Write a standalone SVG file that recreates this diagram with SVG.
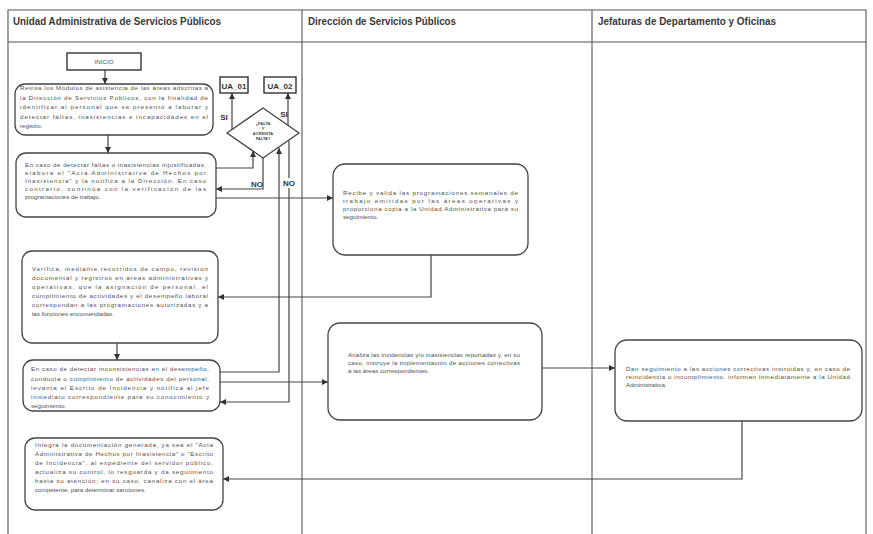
<svg xmlns="http://www.w3.org/2000/svg" width="873" height="534" viewBox="0 0 873 534">
  <style>
    .lane { fill: none; stroke: #555; stroke-width: 1.1; }
    .hdr { font-family: "Liberation Sans", Arial, sans-serif; font-size: 11px; font-weight: bold; fill: #383838; }
    .box { fill: #fff; stroke: #444; stroke-width: 1.3; }
    .txt { font-family: "Liberation Sans", Arial, sans-serif; font-size: 6.2px; fill: #505050; }
    .lbl { font-family: "Liberation Sans", Arial, sans-serif; font-size: 8px; font-weight: bold; fill: #333; text-anchor: middle; }
    .tiny { font-family: "Liberation Sans", Arial, sans-serif; font-size: 4px; font-weight: bold; fill: #444; text-anchor: middle; }
    .con { fill: none; stroke: #444; stroke-width: 1.2; marker-end: url(#arr); }
  </style>
  <defs>
    <marker id="arr" viewBox="0 0 6 6" refX="6" refY="3" markerWidth="6" markerHeight="6" markerUnits="userSpaceOnUse" orient="auto">
      <path d="M0,0 L6,3 L0,6 z" fill="#333"/>
    </marker>
  </defs>
  <rect width="873" height="534" fill="#fff"/>

  <!-- swimlane table -->
  <g id="lanes">
    <path class="lane" d="M8,534 V10 H866 V534 M8,42 H866 M302,10 V534 M592,10 V534"/>
    <text class="hdr" x="13" y="25" textLength="208" lengthAdjust="spacingAndGlyphs">Unidad Administrativa de Servicios Públicos</text>
    <text class="hdr" x="308" y="25" textLength="148" lengthAdjust="spacingAndGlyphs">Dirección de Servicios Públicos</text>
    <text class="hdr" x="598" y="25" textLength="178" lengthAdjust="spacingAndGlyphs">Jefaturas de Departamento y Oficinas</text>
  </g>

  <!-- connectors -->
  <g id="connectors">
    <path class="con" d="M105,70 V84"/>
    <path class="con" d="M108,135 V153"/>
    <path class="con" d="M232,130 V93"/>
    <path class="con" d="M288,125 V93"/>
    <path class="con" d="M216,168 H253 V151"/>
    <path class="con" d="M263,158 V189 H216"/>
    <path class="con" d="M216,198 H333"/>
    <path class="con" d="M431,255 V297 H218"/>
    <path class="con" d="M117,343 V360"/>
    <path class="con" d="M220,372 H279 V148"/>
    <path class="con" d="M289,141 V402 H220"/>
    <path class="con" d="M220,382 H328"/>
    <path class="con" d="M542,368 H615"/>
    <path class="con" d="M742,421 V479 H223"/>
    <text class="lbl" x="224" y="120" font-size="7">SI</text>
    <text class="lbl" x="284" y="117" font-size="7">SI</text>
    <text class="lbl" x="257" y="187">NO</text>
    <rect x="282" y="178" width="14" height="10" fill="#fff"/>
    <text class="lbl" x="289" y="186">NO</text>
  </g>

  <g id="inicio">
    <rect x="67" y="53" width="74" height="17" fill="#fff" stroke="#333" stroke-width="1.4"/>
    <text class="txt" x="104" y="64" text-anchor="middle" font-size="5">INICIO</text>
  </g>

  <g id="ua01">
    <rect x="220" y="77" width="28" height="16" fill="#fff" stroke="#333" stroke-width="1.4"/>
    <text class="lbl" x="234" y="88.5">UA_01</text>
  </g>

  <g id="ua02">
    <rect x="264" y="77" width="32" height="16" fill="#fff" stroke="#333" stroke-width="1.4"/>
    <text class="lbl" x="280" y="88.5">UA_02</text>
  </g>

  <g id="decision">
    <polygon points="263,108 299,133 263,158 227,133" fill="#fff" stroke="#444" stroke-width="1.3"/>
    <text class="tiny" x="263" y="125">¿FALTA</text>
    <text class="tiny" x="263" y="130">Y</text>
    <text class="tiny" x="263" y="135">ACREDITA</text>
    <text class="tiny" x="263" y="140">FALTA?</text>
  </g>

  <g id="revisa">
    <rect class="box" x="15" y="84" width="198" height="51" rx="10"/>
    <text class="txt" x="20" y="90" textLength="188">Revisa los Módulos de asistencia de las áreas adscritas a</text>
    <text class="txt" x="20" y="100" textLength="188">la Dirección de Servicios Públicos, con la finalidad de</text>
    <text class="txt" x="20" y="109" textLength="188">identificar al personal que se presentó a laborar y</text>
    <text class="txt" x="20" y="119" textLength="188">detectar faltas, inasistencias e incapacidades en el</text>
    <text class="txt" x="20" y="128">registro.</text>
  </g>

  <g id="acta">
    <rect class="box" x="16" y="153" width="200" height="64" rx="10"/>
    <text class="txt" x="25" y="166.5" textLength="181">En caso de detectar faltas o inasistencias injustificadas,</text>
    <text class="txt" x="25" y="174.5" textLength="181">elabora el "Acta Administrativa de Hechos por</text>
    <text class="txt" x="25" y="182.5" textLength="181">Inasistencia" y la notifica a la Dirección. En caso</text>
    <text class="txt" x="25" y="190.5" textLength="181">contrario, continúa con la verificación de las</text>
    <text class="txt" x="25" y="198.5">programaciones de trabajo.</text>
  </g>

  <g id="verifica">
    <rect class="box" x="22" y="251" width="196" height="92" rx="10"/>
    <text class="txt" x="32" y="271" textLength="176">Verifica, mediante recorridos de campo, revisión</text>
    <text class="txt" x="32" y="280" textLength="176">documental y registros en áreas administrativas y</text>
    <text class="txt" x="32" y="289" textLength="176">operativas, que la asignación de personal, el</text>
    <text class="txt" x="32" y="298" textLength="176">cumplimiento de actividades y el desempeño laboral</text>
    <text class="txt" x="32" y="307" textLength="176">correspondan a las programaciones autorizadas y a</text>
    <text class="txt" x="32" y="316">las funciones encomendadas.</text>
  </g>

  <g id="incidencia">
    <rect class="box" x="23" y="360" width="197" height="51" rx="10"/>
    <text class="txt" x="31" y="371" textLength="178">En caso de detectar inconsistencias en el desempeño,</text>
    <text class="txt" x="31" y="380.5" textLength="178">conducta o cumplimiento de actividades del personal,</text>
    <text class="txt" x="31" y="389.5" textLength="178">levanta el Escrito de Incidencia y notifica al jefe</text>
    <text class="txt" x="31" y="398.5" textLength="178">inmediato correspondiente para su conocimiento y</text>
    <text class="txt" x="31" y="407.5">seguimiento.</text>
  </g>

  <g id="integra">
    <rect class="box" x="25" y="438" width="198" height="72" rx="10"/>
    <text class="txt" x="35" y="447" textLength="178">Integra la documentación generada, ya sea el "Acta</text>
    <text class="txt" x="35" y="456" textLength="178">Administrativa de Hechos por Inasistencia" o "Escrito</text>
    <text class="txt" x="35" y="465" textLength="178">de Incidencia", al expediente del servidor público,</text>
    <text class="txt" x="35" y="474" textLength="178">actualiza su control, lo resguarda y da seguimiento</text>
    <text class="txt" x="35" y="483" textLength="178">hasta su atención; en su caso, canaliza con el área</text>
    <text class="txt" x="35" y="492">competente, para determinar sanciones.</text>
  </g>

  <g id="recibe">
    <rect class="box" x="333" y="164" width="195" height="91" rx="12"/>
    <text class="txt" x="343" y="195" textLength="175">Recibe y valida las programaciones semanales de</text>
    <text class="txt" x="343" y="203" textLength="175">trabajo emitidas por las áreas operativas y</text>
    <text class="txt" x="343" y="211" textLength="175">proporciona copia a la Unidad Administrativa para su</text>
    <text class="txt" x="343" y="219">seguimiento.</text>
  </g>

  <g id="analiza">
    <rect class="box" x="328" y="323" width="214" height="97" rx="12"/>
    <text class="txt" x="348" y="357" textLength="172">Analiza las incidencias y/o inasistencias reportadas y, en su</text>
    <text class="txt" x="348" y="365" textLength="172">caso, instruye la implementación de acciones correctivas</text>
    <text class="txt" x="348" y="373">a las áreas correspondientes.</text>
  </g>

  <g id="seguimiento">
    <rect class="box" x="615" y="340" width="247" height="81" rx="12"/>
    <text class="txt" x="626" y="371" textLength="224">Dan seguimiento a las acciones correctivas instruidas y, en caso de</text>
    <text class="txt" x="626" y="379" textLength="224">reincidencia o incumplimiento, informan inmediatamente a la Unidad</text>
    <text class="txt" x="626" y="387">Administrativa.</text>
  </g>
</svg>
